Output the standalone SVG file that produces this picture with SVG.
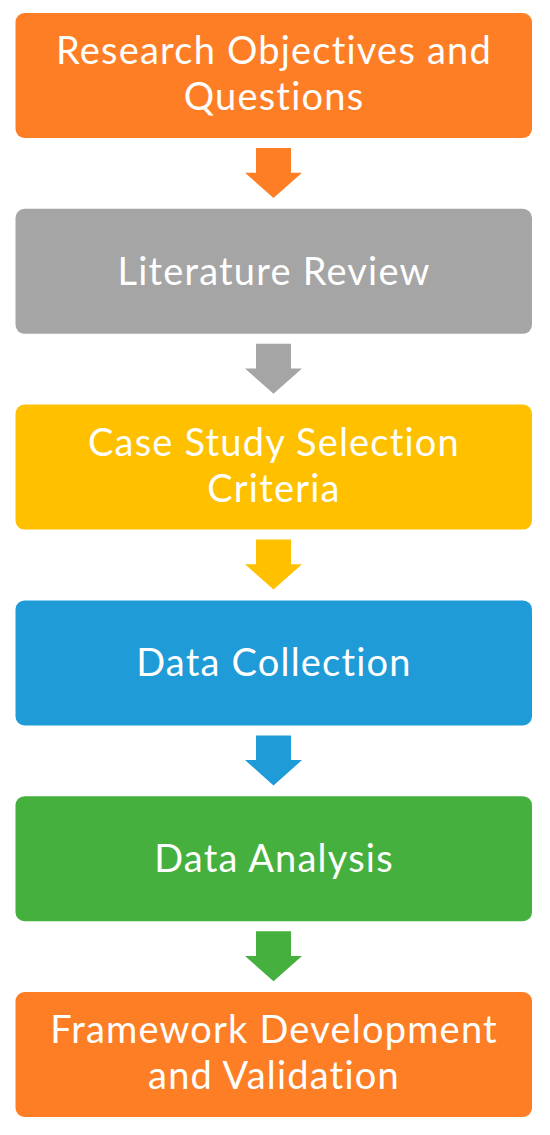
<svg xmlns="http://www.w3.org/2000/svg" width="550" height="1135" viewBox="0 0 550 1135">
<style>
.box{stroke:none}
.t{font-family:Lato,"Open Sans",sans-serif;font-size:38px;letter-spacing:1.2px;fill:#ffffff;text-anchor:middle}
.o{fill:#FD7E25}.g{fill:#A5A5A5}.y{fill:#FFC000}.b{fill:#1F9BD8}.gr{fill:#45B03E}
</style>
<rect width="550" height="1135" fill="#ffffff"/>
<g id="connectors">
<polygon class="o" points="256,148 291,148 291,172.7 302,172.7 273.5,198 245,172.7 256,172.7"/>
<polygon class="g" points="256,343.8 291,343.8 291,368.5 302,368.5 273.5,393.8 245,368.5 256,368.5"/>
<polygon class="y" points="256,539.6 291,539.6 291,564.3 302,564.3 273.5,589.6 245,564.3 256,564.3"/>
<polygon class="b" points="256,735.4 291,735.4 291,760.1 302,760.1 273.5,785.4 245,760.1 256,760.1"/>
<polygon class="gr" points="256,931.2 291,931.2 291,955.9 302,955.9 273.5,981.2 245,955.9 256,955.9"/>
</g>
<g id="n1"><rect class="box o" x="15.5" y="13" width="516.5" height="125" rx="9"/>
<text class="t" x="274" y="64">Research Objectives and</text><text class="t" x="274" y="110">Questions</text></g>
<g id="n2"><rect class="box g" x="15.5" y="208.8" width="516.5" height="125" rx="9"/>
<text class="t" x="274" y="284.5">Literature Review</text></g>
<g id="n3"><rect class="box y" x="15.5" y="404.6" width="516.5" height="125" rx="9"/>
<text class="t" x="274" y="455.6">Case Study Selection</text><text class="t" x="274" y="501.6">Criteria</text></g>
<g id="n4"><rect class="box b" x="15.5" y="600.4" width="516.5" height="125" rx="9"/>
<text class="t" x="274" y="676.1">Data Collection</text></g>
<g id="n5"><rect class="box gr" x="15.5" y="796.2" width="516.5" height="125" rx="9"/>
<text class="t" x="274" y="871.9">Data Analysis</text></g>
<g id="n6"><rect class="box o" x="15.5" y="992" width="516.5" height="125" rx="9"/>
<text class="t" x="274" y="1043">Framework Development</text><text class="t" x="274" y="1089">and Validation</text></g>
</svg>
